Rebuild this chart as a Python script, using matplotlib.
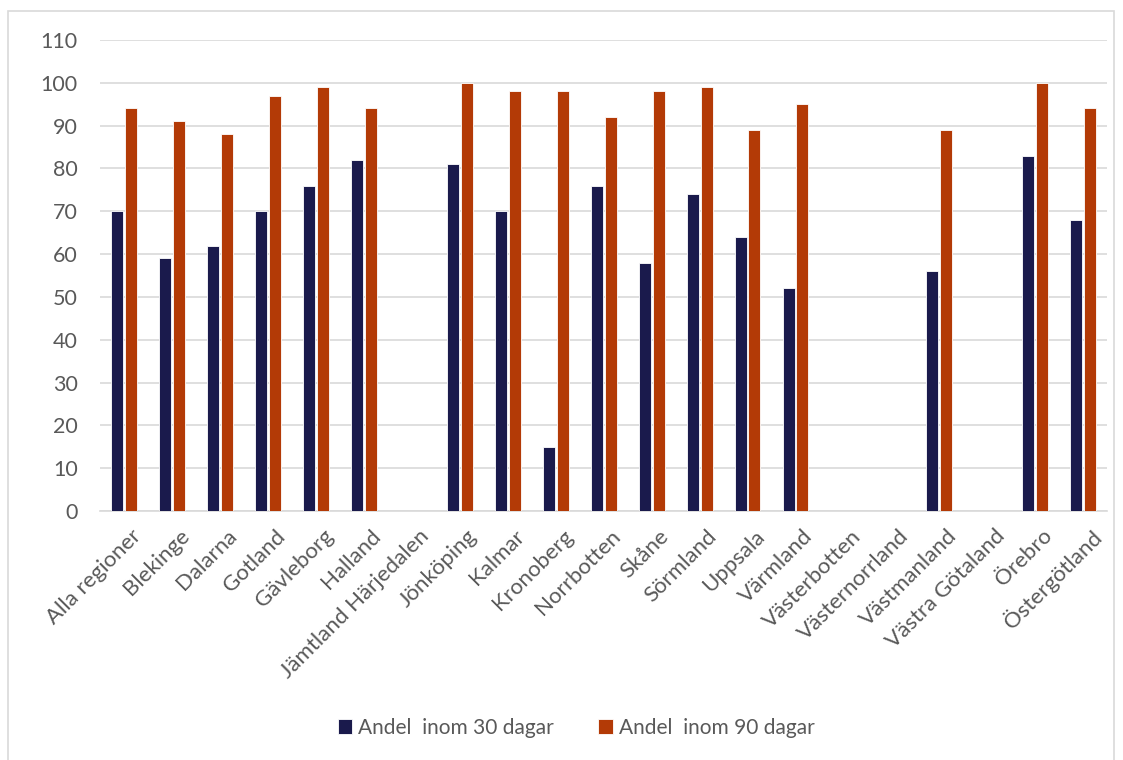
import numpy as np
import matplotlib.pyplot as plt
import matplotlib.transforms as mtrans
from matplotlib.patches import Rectangle

regions = ["Alla regioner", "Blekinge", "Dalarna", "Gotland", "Gävleborg", "Halland",
           "Jämtland Härjedalen", "Jönköping", "Kalmar", "Kronoberg", "Norrbotten",
           "Skåne", "Sörmland", "Uppsala", "Värmland", "Västerbotten",
           "Västernorrland", "Västmanland", "Västra Götaland", "Örebro", "Östergötland"]

nan = np.nan
andel_30 = [70, 59, 62, 70, 76, 82, nan, 81, 70, 15, 76, 58, 74, 64, 52, nan, nan, 56, nan, 83, 68]
andel_90 = [94, 91, 88, 97, 99, 94, nan, 100, 98, 98, 92, 98, 99, 89, 95, nan, nan, 89, nan, 100, 94]

navy = "#1a1a4c"
rust = "#b33a06"
grey_txt = "#595959"

plt.rcParams['font.family'] = ['Lato', 'DejaVu Sans']

fig = plt.figure(figsize=(11.23, 7.6), dpi=100)
ax = fig.add_axes([0.089, 0.3276, 0.897, 0.6198])

x = np.arange(len(regions))
w = 0.25
ax.bar(x - 0.145, andel_30, w, color=navy, edgecolor="white", linewidth=0.6,
       label="Andel  inom 30 dagar", zorder=3)
ax.bar(x + 0.145, andel_90, w, color=rust, edgecolor="white", linewidth=0.6,
       label="Andel  inom 90 dagar", zorder=3)

ax.set_xlim(-0.5, len(regions) - 0.5)
ax.set_ylim(0, 110)
ax.set_yticks(range(0, 111, 10))
ax.yaxis.grid(True, color="#d9d9d9", linewidth=1.2, zorder=0)
ax.set_axisbelow(True)
for s in ["top", "right", "left"]:
    ax.spines[s].set_visible(False)
ax.spines["bottom"].set_color("#d9d9d9")
ax.spines["bottom"].set_linewidth(1.2)
ax.tick_params(length=0, colors=grey_txt, labelsize=15.5)
ax.tick_params(axis="y", pad=16)

ax.set_xticks(x)
ax.set_xticklabels(regions, rotation=45, ha="right", va="top", rotation_mode="anchor",
                   fontsize=16, color=grey_txt)
# nudge the slanted labels so their ends sit under the bar pairs
off = mtrans.ScaledTranslation(0.07, -0.1, fig.dpi_scale_trans)
for lab in ax.get_xticklabels():
    lab.set_transform(lab.get_transform() + off)

leg = fig.legend(loc="center", bbox_to_anchor=(0.513, 0.042), ncol=2, frameon=False,
                 fontsize=15, handlelength=0.7, handleheight=0.7, handletextpad=0.3,
                 columnspacing=2.1)
for t in leg.get_texts():
    t.set_color(grey_txt)

fig.patches.append(Rectangle((0.007, -0.01), 0.985, 0.996, transform=fig.transFigure,
                             fill=False, edgecolor="#d9d9d9", linewidth=1.2))

fig.savefig("out.png", dpi=100)
